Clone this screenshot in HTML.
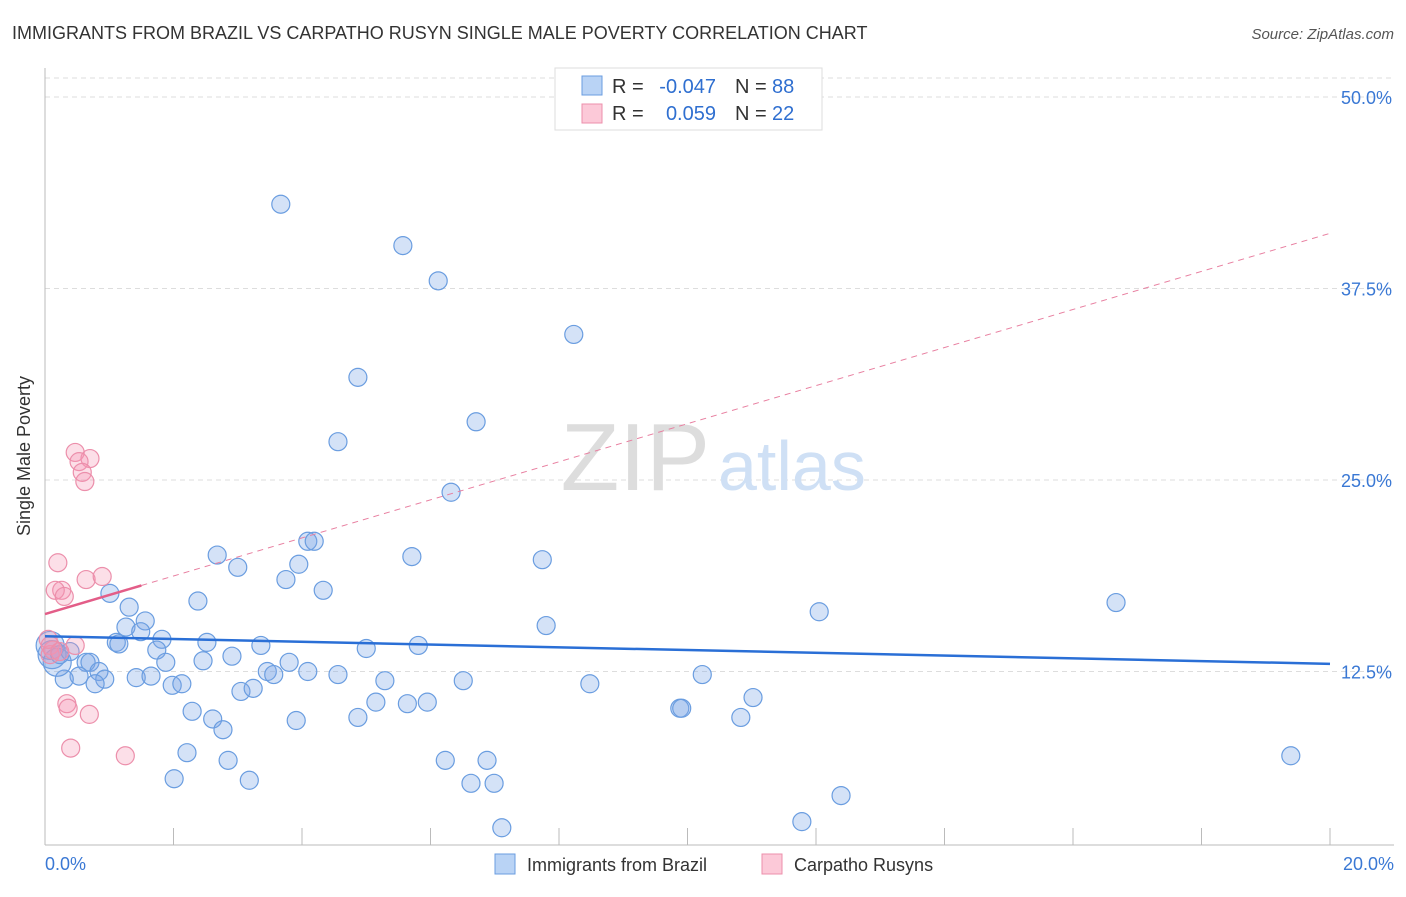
<!DOCTYPE html>
<html><head><meta charset="utf-8"><style>
body{margin:0;background:#fff;font-family:"Liberation Sans",sans-serif;}
svg text{font-family:"Liberation Sans",sans-serif;}
</style></head><body>
<svg width="1406" height="892">
<text x="12" y="39" font-size="18" fill="#333">IMMIGRANTS FROM BRAZIL VS CARPATHO RUSYN SINGLE MALE POVERTY CORRELATION CHART</text>
<text x="1394" y="39" font-size="15" fill="#555" font-style="italic" text-anchor="end">Source: ZipAtlas.com</text>
<g id="grid"></g>
<text x="710" y="490" font-size="96" fill="#ddd" font-family="Liberation Serif" text-anchor="end">ZIP</text>
<text x="718" y="490" font-size="70" fill="#cfe0f5">atlas</text>
<g id="marks"></g>
<text x="30" y="456" font-size="18" fill="#333" transform="rotate(-90 30 456)" text-anchor="middle">Single Male Poverty</text>
<text x="45" y="870" font-size="18" fill="#3a78d4">0.0%</text>
<text x="1394" y="870" font-size="18" fill="#3a78d4" text-anchor="end">20.0%</text>
<g>
<rect x="555" y="68" width="267" height="62" fill="#fff" stroke="#ddd"/>
<rect x="582" y="76" width="20" height="19" fill="#b9d3f5" stroke="#6a9de0"/>
<rect x="582" y="104" width="20" height="19" fill="#fcc9d8" stroke="#ec8fab"/>
<text x="612" y="93" font-size="20" fill="#333">R =</text>
<text x="716" y="93" font-size="20" fill="#2f6fd0" text-anchor="end">-0.047</text>
<text x="735" y="93" font-size="20" fill="#333">N =</text>
<text x="772" y="93" font-size="20" fill="#2f6fd0">88</text>
<text x="612" y="120" font-size="20" fill="#333">R =</text>
<text x="716" y="120" font-size="20" fill="#2f6fd0" text-anchor="end">0.059</text>
<text x="735" y="120" font-size="20" fill="#333">N =</text>
<text x="772" y="120" font-size="20" fill="#2f6fd0">22</text>
</g>
<g>
<rect x="495" y="854" width="20" height="20" fill="#b9d3f5" stroke="#6a9de0"/>
<text x="527" y="871" font-size="18" fill="#333">Immigrants from Brazil</text>
<rect x="762" y="854" width="20" height="20" fill="#fcc9d8" stroke="#ec8fab"/>
<text x="794" y="871" font-size="18" fill="#333">Carpatho Rusyns</text>
</g>
</svg>
<script>
const yTicks=[12.5,25,37.5,50];
const blueX=[3.67,5.57,6.12,8.23,4.87,6.71,4.56,6.32,4.09,4.19,3.95,2.68,3.00,5.71,7.74,3.75,4.33,1.01,2.38,1.31,16.67,12.05,1.56,1.26,1.49,7.80,1.82,1.11,1.15,2.52,3.36,1.74,5.0,5.81,2.91,1.88,2.46,3.80,3.46,3.56,4.09,4.56,5.29,6.51,8.48,10.23,0.64,0.70,0.84,0.53,0.93,0.78,0.30,1.42,1.65,1.98,2.13,3.05,3.24,5.15,5.64,5.95,11.02,9.88,9.91,2.29,2.61,2.77,3.91,4.87,10.83,2.21,2.85,6.23,6.88,19.39,2.01,3.18,6.63,6.99,12.39,11.78,7.11,0.08,0.11,0.19,0.23,0.39];
const blueY=[43.0,40.3,38.0,34.5,31.7,28.8,27.5,24.2,21.0,21.0,19.5,20.1,19.3,20.0,19.8,18.5,17.8,17.6,17.1,16.7,17.0,16.4,15.8,15.4,15.1,15.5,14.6,14.4,14.3,14.4,14.2,13.9,14.0,14.2,13.5,13.1,13.2,13.1,12.5,12.3,12.5,12.3,11.9,11.9,11.7,12.3,13.1,13.1,12.5,12.2,12.0,11.7,12.0,12.1,12.2,11.6,11.7,11.2,11.4,10.5,10.4,10.5,10.8,10.1,10.1,9.9,9.4,8.7,9.3,9.5,9.5,7.2,6.7,6.7,6.7,7.0,5.5,5.4,5.2,5.2,4.4,2.7,2.3,14.2,13.6,13.1,13.6,13.8];
const pinkX=[0.47,0.70,0.53,0.58,0.62,0.20,0.26,0.16,0.30,0.64,0.89,0.34,0.36,0.69,0.40,1.25,0.47,0.08,0.08,0.12,0.05,0.23];
const pinkY=[26.8,26.4,26.2,25.5,24.9,19.6,17.8,17.8,17.4,18.5,18.7,10.4,10.1,9.7,7.5,7.0,14.2,14.2,13.6,13.9,14.6,13.8];
const blueTrend=[14.8,13.0];
const pinkTrend=[16.25,41.1];
const pinkSolidEnd=1.5;
const NS='http://www.w3.org/2000/svg';
const X=v=>45+v/20*1285, Y=v=>863-v*15.32;
function mk(t,a,p){const e=document.createElementNS(NS,t);for(const k in a)e.setAttribute(k,a[k]);p.appendChild(e);return e;}
const gGrid=document.getElementById('grid'), gMarks=document.getElementById('marks');
const topLine=mk('line',{x1:45,x2:1394,y1:78,y2:78,stroke:'#ddd','stroke-dasharray':'5,4'},gGrid);


yTicks.forEach(t=>{
 const l=mk('line',{x1:45,x2:1394,y1:Y(t),y2:Y(t),stroke:'#ddd','stroke-dasharray':'5,4'},gGrid);
 
 
 const tx=mk('text',{x:1392,y:Y(t)+7,'font-size':18,fill:'#3a78d4','text-anchor':'end'},gGrid);
 tx.textContent=t.toFixed(1)+'%';
 
 
});
const ax=mk('line',{x1:45,x2:45,y1:68,y2:845,stroke:'#bbb'},gGrid);


const bx=mk('line',{x1:45,x2:1394,y1:845,y2:845,stroke:'#bbb'},gGrid);


for(let i=1;i<=10;i++){const t=mk('line',{x1:X(i*2),x2:X(i*2),y1:828,y2:845,stroke:'#bbb'},gGrid);
 
 }
function dot(x,y,f,s,r,name){const c=mk('circle',{cx:X(x),cy:Y(y),r:r,fill:f,stroke:s,'stroke-width':1.2},gMarks);
 
 }
blueX.forEach((x,i)=>dot(x,blueY[i],'rgba(120,165,230,0.32)','#6a9de0',x<0.2?14:9,'brazil-point'));
pinkX.forEach((x,i)=>dot(x,pinkY[i],'rgba(245,150,180,0.3)','#ec8fab',9,'rusyn-point'));
const bl=mk('line',{x1:X(0),x2:X(20),y1:Y(blueTrend[0]),y2:Y(blueTrend[1]),stroke:'#2a6fd6','stroke-width':2.5},gMarks);


const pe=pinkTrend[0]+(pinkTrend[1]-pinkTrend[0])*pinkSolidEnd/20;
const pd=mk('line',{x1:X(pinkSolidEnd),x2:X(20),y1:Y(pe),y2:Y(pinkTrend[1]),stroke:'#e87fa0','stroke-width':1,'stroke-dasharray':'6,5'},gMarks);


const ps=mk('line',{x1:X(0),x2:X(pinkSolidEnd),y1:Y(pinkTrend[0]),y2:Y(pe),stroke:'#e35d88','stroke-width':2.5},gMarks);


</script>
</body></html>
